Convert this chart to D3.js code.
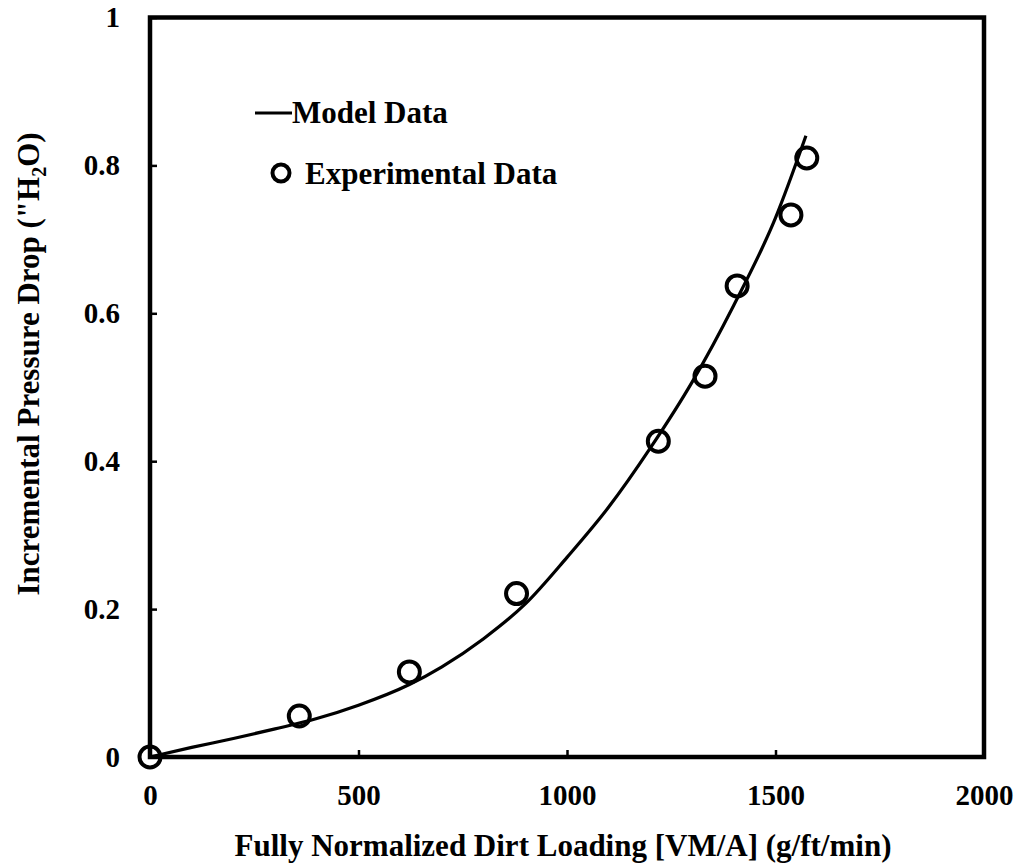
<!DOCTYPE html>
<html>
<head>
<meta charset="utf-8">
<script src="https://cdn.jsdelivr.net/npm/d3@7"></script>
<style>
  html, body { margin: 0; padding: 0; background: #fff; }
  svg { display: block; }
  text { font-family: "Liberation Serif", "Times New Roman", serif; font-weight: bold; fill: #000; }
</style>
</head>
<body>
<svg id="chart" width="1020" height="865"></svg>
<script>
// Model curve (dirt loading vs. incremental pressure drop)
const modelX = [0, 100, 200, 300, 400, 500, 622, 700, 800, 900, 1000, 1100, 1200, 1300, 1400, 1500, 1573];
const modelY = [0, 0.013, 0.025, 0.038, 0.052, 0.07, 0.098, 0.122, 0.16, 0.207, 0.27, 0.338, 0.418, 0.507, 0.611, 0.729, 0.84];

// Measured points
const expX = [0, 358, 622, 879, 1219, 1331, 1408, 1537, 1575];
const expY = [0, 0.0554, 0.115, 0.221, 0.427, 0.515, 0.637, 0.733, 0.81];

// Axis ticks
const xTicks = [0, 500, 1000, 1500, 2000];
const yTicks = [0, 0.2, 0.4, 0.6, 0.8, 1];

const svg = d3.select("#chart");
const L = 150, R = 984, T = 17.5, B = 757;

const x = d3.scaleLinear().domain([0, 2000]).range([L, R]);
const y = d3.scaleLinear().domain([0, 1]).range([B, T]);

// Inward ticks with labels
const xAxis = d3.axisBottom(x).tickValues(xTicks).tickSizeInner(-7).tickSizeOuter(0)
  .tickPadding(27).tickFormat(d3.format("d"));
const gx = svg.append("g").attr("transform", `translate(0,${B})`).call(xAxis);
gx.select(".domain").remove();
gx.selectAll(".tick line").attr("stroke", "#000").attr("stroke-width", 2.5);
gx.selectAll(".tick text").style("font-size", "29px").attr("dy", "0.71em");

const yAxis = d3.axisLeft(y).tickValues(yTicks).tickSizeInner(-7).tickSizeOuter(0)
  .tickPadding(30).tickFormat(d => d === 0 || d === 1 ? String(d) : d3.format(".1f")(d));
const gy = svg.append("g").attr("transform", `translate(${L},0)`).call(yAxis);
gy.select(".domain").remove();
gy.selectAll(".tick line").attr("stroke", "#000").attr("stroke-width", 2.5);
gy.selectAll(".tick text").style("font-size", "29px");

// Plot frame
svg.append("rect")
  .attr("x", L).attr("y", T).attr("width", R - L).attr("height", B - T)
  .attr("fill", "none").attr("stroke", "#000").attr("stroke-width", 4.5);

// Model line
const line = d3.line().x((d, i) => x(modelX[i])).y((d, i) => y(modelY[i])).curve(d3.curveMonotoneX);
svg.append("path").datum(modelX).attr("d", line)
  .attr("fill", "none").attr("stroke", "#000").attr("stroke-width", 3.2);

// Experimental markers
svg.append("g").selectAll("circle").data(expX).join("circle")
  .attr("cx", (d, i) => x(expX[i])).attr("cy", (d, i) => y(expY[i]))
  .attr("r", 10.5).attr("fill", "none").attr("stroke", "#000").attr("stroke-width", 4);

// Legend
const lg = svg.append("g");
lg.append("line").attr("x1", 255).attr("x2", 292).attr("y1", 113).attr("y2", 113)
  .attr("stroke", "#000").attr("stroke-width", 3.2);
lg.append("text").attr("x", 292).attr("y", 123).style("font-size", "31px").text("Model Data");
lg.append("circle").attr("cx", 281).attr("cy", 173).attr("r", 8.5)
  .attr("fill", "none").attr("stroke", "#000").attr("stroke-width", 4);
lg.append("text").attr("x", 305).attr("y", 184).style("font-size", "31px").text("Experimental Data");

// Axis titles
svg.append("text").attr("x", 563).attr("y", 856).attr("text-anchor", "middle")
  .style("font-size", "31px").text("Fully Normalized Dirt Loading [VM/A] (g/ft/min)");

const yt = svg.append("text").attr("transform", "translate(39,364) rotate(-90)")
  .attr("text-anchor", "middle").style("font-size", "31px");
yt.append("tspan").text("Incremental Pressure Drop (\"H");
yt.append("tspan").attr("dy", 7).style("font-size", "20px").text("2");
yt.append("tspan").attr("dy", -7).text("O)");
</script>
</body>
</html>
